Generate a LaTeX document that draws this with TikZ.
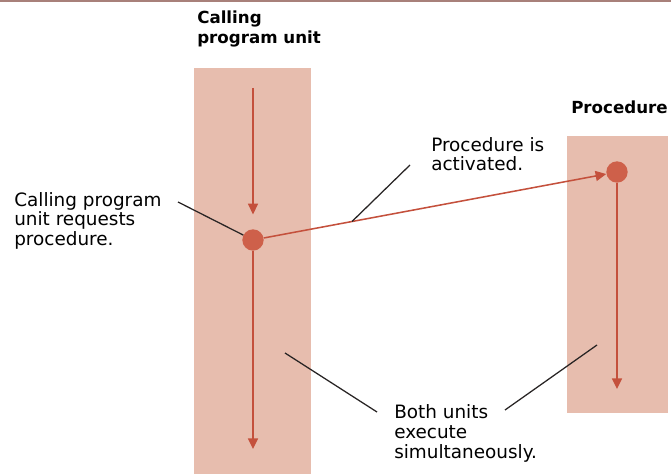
\documentclass[tikz,border=0pt]{standalone}
\usepackage{fontspec}
\setmainfont{DejaVu Sans}
\usetikzlibrary{arrows.meta}
\definecolor{lane}{RGB}{231,189,174}
\definecolor{flow}{RGB}{196,80,60}
\definecolor{dotfill}{RGB}{206,96,74}
\definecolor{leader}{RGB}{40,36,36}
\definecolor{topband}{RGB}{168,128,122}
\tikzset{
  x=0.75pt, y=-0.75pt,
  lanebox/.style={fill=lane, draw=none},
  title/.style={anchor=north west, inner sep=0pt, align=left,
    font=\fontsize{12.5pt}{15pt}\selectfont\bfseries},
  note/.style={anchor=north west, inner sep=0pt, align=left,
    font=\fontsize{13.8pt}{14.8pt}\selectfont},
  flowline/.style={draw=flow, line width=1.15pt,
    -{Triangle[length=8pt,width=7.5pt]}},
  event/.style={circle, fill=dotfill, draw=none, minimum size=16pt, inner sep=0pt},
  leaderline/.style={draw=leader, line width=0.95pt},
}
\begin{document}
\begin{tikzpicture}
\useasboundingbox (0,0) rectangle (671,474);
\fill[topband] (0,0) rectangle (671,2);

% execution lanes
\path[lanebox] (194,68) rectangle (311,474);
\path[lanebox] (567,136) rectangle (668,413);

% headings
\node[title] (callhead) at (197,10.5) {Calling\\program unit};
\node[title] (prochead) at (571,101) {Procedure};

% events
\node[event] (ldot) at (253,240) {};
\node[event] (rdot) at (617,172) {};

% control flow
\coordinate (lstart) at (253,88);
\coordinate (lend) at (253,449);
\coordinate (rend) at (617,389);
\draw[flowline, shorten >=11pt] (lstart) -- (ldot);
\draw[flowline] (ldot) -- (lend);
\draw[flowline] (ldot) -- (rdot);
\draw[flowline] (rdot) -- (rend);

% annotations
\node[note] (reqtext) at (14,192) {Calling program\\unit requests\\procedure.};
\node[note] (acttext) at (431,137) {Procedure is\\activated.};
\node[note] (bothtext) at (394,404.5) {Both units\\execute\\simultaneously.};

\coordinate (reqlead) at (178,202);
\coordinate (actlead) at (410,165);
\coordinate (acthit) at (352,221.5);
\coordinate (bothlA) at (377,412);
\coordinate (bothlAend) at (285,353);
\coordinate (bothlB) at (505,410);
\coordinate (bothlBend) at (597,345);

\draw[leaderline] (reqlead) -- (ldot);
\draw[leaderline] (actlead) -- (acthit);
\draw[leaderline] (bothlA) -- (bothlAend);
\draw[leaderline] (bothlB) -- (bothlBend);
\end{tikzpicture}
\end{document}
